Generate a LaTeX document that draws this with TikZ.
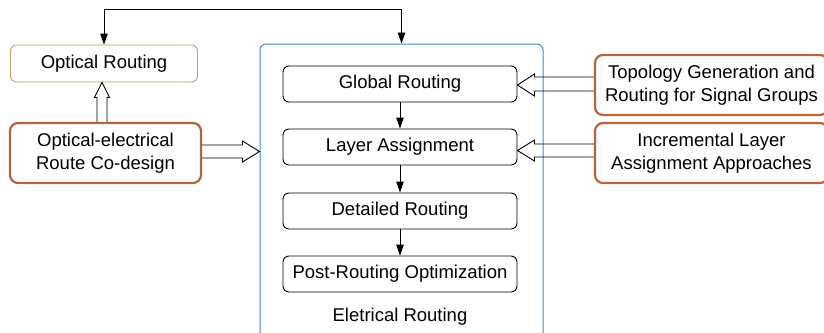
\documentclass[tikz,border=0pt]{standalone}
\usepackage{fontspec}
\setmainfont{Liberation Sans}
\usetikzlibrary{arrows.meta,calc}

\definecolor{olivebd}{RGB}{184,168,84}
\definecolor{brownbd}{RGB}{181,101,58}
\definecolor{bluebd}{RGB}{60,135,216}

\tikzset{
  base/.style={rounded corners=6pt, align=center, inner sep=0pt,
    font=\fontsize{18.5pt}{22.5pt}\selectfont},
  olivebox/.style={base, draw=olivebd, line width=0.9pt,
    minimum width=187pt, minimum height=37pt},
  brownbox/.style={base, draw=brownbd, line width=2.2pt, rounded corners=8pt,
    minimum width=191pt, minimum height=60pt},
  sidebox/.style={brownbox, minimum width=233pt},
  stepbox/.style={base, draw=black, line width=0.9pt,
    minimum width=234pt, minimum height=36pt},
  groupbox/.style={draw=bluebd, line width=1pt, rounded corners=6pt,
    minimum width=283pt, minimum height=301pt, inner sep=0pt},
  plain/.style={base},
  thinarrow/.style={draw=black, line width=0.9pt,
    -{Triangle[length=11pt,width=7.5pt]}},
  fatarrow/.style={draw=black, line width=0.9pt, line join=miter},
}

\begin{document}
\begin{tikzpicture}[x=1pt,y=-1pt]
  \useasboundingbox (0,0) rectangle (824,332);

  % left column
  \node[olivebox] (opt) at (104,63.5) {Optical Routing};
  \node[brownbox] (oe) at (105.5,153) {Optical-electrical\\Route Co-design};

  % electrical routing group
  \node[groupbox] (elec) at (401.5,194.5) {};
  \node[stepbox] (gr) at (400,84)  {Global Routing};
  \node[stepbox] (la) at (400,147) {Layer Assignment};
  \node[stepbox] (dr) at (400,211) {Detailed Routing};
  \node[stepbox] (pr) at (400,274) {Post-Routing Optimization};
  \node[plain] (elecl) at (400,317) {Eletrical Routing};

  % right column
  \node[sidebox] (topo) at (711.5,85)  {Topology Generation and\\Routing for Signal Groups};
  \node[sidebox] (inc)  at (711.5,153) {Incremental Layer\\Assignment Approaches};

  % flow inside the group
  \draw[thinarrow] (gr) -- (la);
  \draw[thinarrow] (la) -- (dr);
  \draw[thinarrow] (dr) -- (pr);

  % feedback link along the top
  \coordinate (topline) at (0,9);
  \draw[thinarrow, {Triangle[length=11pt,width=7.5pt]}-{Triangle[length=11pt,width=7.5pt]}]
    (elec.north) -- (elec.north |- topline) -| (opt.north);

  % hollow block arrows
  \draw[fatarrow] let \p1=(topo.west), \p2=(gr.east) in
    (\x1,\y1+8pt) -- (\x2+17pt,\y1+8pt) -- (\x2+17pt,\y1+11pt) -- (\x2,\y1)
    -- (\x2+17pt,\y1-11pt) -- (\x2+17pt,\y1-6pt) -- (\x1,\y1-6pt);
  \draw[fatarrow] let \p1=(inc.west), \p2=(la.east) in
    (\x1,\y1+9pt) -- (\x2+17pt,\y1+9pt) -- (\x2+17pt,\y1+13pt) -- (\x2,\y1+2.5pt)
    -- (\x2+17pt,\y1-8pt) -- (\x2+17pt,\y1-4pt) -- (\x1,\y1-4pt);
  \draw[fatarrow] let \p1=(oe.east), \p2=(elec.west) in
    (\x1,\y1+8pt) -- (\x2-17pt,\y1+8pt) -- (\x2-17pt,\y1+12pt) -- (\x2,\y1+1.5pt)
    -- (\x2-17pt,\y1-9pt) -- (\x2-17pt,\y1-5pt) -- (\x1,\y1-5pt);
  \draw[fatarrow] let \p1=(oe.north), \p2=(opt.south) in
    (\x1-8.5pt,\y1) -- (\x1-8.5pt,\y2-15pt) -- (\x1-11pt,\y2-15pt) -- (\x1-3.5pt,\y2)
    -- (\x1+4pt,\y2-15pt) -- (\x1+1.5pt,\y2-15pt) -- (\x1+1.5pt,\y1);
\end{tikzpicture}
\end{document}
